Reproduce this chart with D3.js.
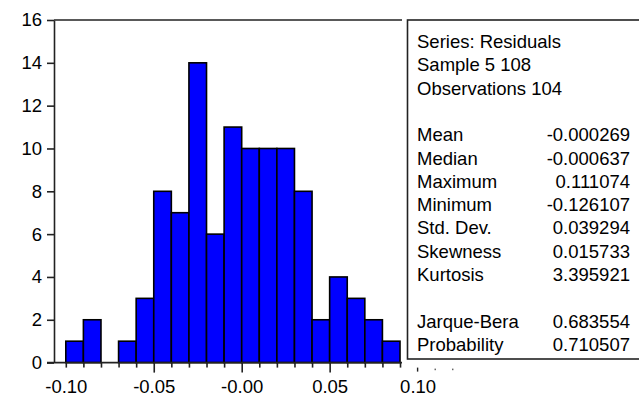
<!DOCTYPE html>
<html>
<head>
<meta charset="utf-8">
<script src="https://cdn.jsdelivr.net/npm/d3@7"></script>
<style>
  body { margin: 0; background: #fff; }
  svg { display: block; font-family: Arial, "Liberation Sans", sans-serif; }
</style>
</head>
<body>
<svg id="hist" width="639" height="396"></svg>
<script>
// bin lower edges and counts
const binStarts = [-0.10, -0.09, -0.08, -0.07, -0.06, -0.05, -0.04, -0.03, -0.02, -0.01,
                   0.00, 0.01, 0.02, 0.03, 0.04, 0.05, 0.06, 0.07, 0.08]
const counts = [1, 2, 0, 1, 3, 8, 7, 14, 6, 11, 10, 10, 10, 8, 2, 4, 3, 2, 1]
const binWidth = 0.01

const yTicks = [0, 2, 4, 6, 8, 10, 12, 14, 16]
const xMajor = [-0.05, 0.00, 0.05]
const xLabelValues = [-0.10, -0.05, 0.00, 0.05, 0.10]
const xLabels = ['-0.10', '-0.05', '-0.00', '0.05', '0.10']
const xMinor = [-0.10, -0.09, -0.08, -0.07, -0.06, -0.04, -0.03, -0.02, -0.01,
                0.01, 0.02, 0.03, 0.04, 0.06, 0.07, 0.08, 0.09]
const xOutside = [0.11, 0.12]

const statLabels = ['Series: Residuals', 'Sample 5 108', 'Observations 104', '',
  'Mean', 'Median', 'Maximum', 'Minimum', 'Std. Dev.', 'Skewness', 'Kurtosis', '',
  'Jarque-Bera', 'Probability']
const statValues = ['', '', '', '',
  '-0.000269', '-0.000637', '0.111074', '-0.126107', '0.039294', '0.015733', '3.395921', '',
  '0.683554', '0.710507']

const svg = d3.select('#hist')
const fontSize = '18.5px'
const axisColor = '#222'

const plot = {left: 54, right: 402, top: 20, bottom: 362.6}

const x = d3.scaleLinear().domain([-0.10, 0.10]).range([65.8, 417.6])
const y = d3.scaleLinear().domain([0, 16]).range([plot.bottom, plot.top])

// bars
svg.append('g')
  .selectAll('rect')
  .data(counts)
  .join('rect')
    .attr('x', (d, i) => x(binStarts[i]))
    .attr('y', d => y(d))
    .attr('width', (d, i) => x(binStarts[i] + binWidth) - x(binStarts[i]))
    .attr('height', d => y(0) - y(d))
    .attr('fill', d => d > 0 ? '#0000ff' : 'none')
    .attr('stroke', d => d > 0 ? '#000' : 'none')
    .attr('stroke-width', 1.6)

// frame top line and x axis line
svg.append('line')
  .attr('x1', plot.left).attr('x2', plot.right)
  .attr('y1', plot.top).attr('y2', plot.top)
  .attr('stroke', axisColor).attr('stroke-width', 1.6)
svg.append('line')
  .attr('x1', 47).attr('x2', plot.right)
  .attr('y1', plot.bottom).attr('y2', plot.bottom)
  .attr('stroke', axisColor).attr('stroke-width', 1.6)

// y axis
const yAxis = svg.append('g')
  .attr('transform', 'translate(' + plot.left + ',0)')
  .call(d3.axisLeft(y).tickValues(yTicks).tickSize(7).tickSizeOuter(0).tickPadding(5))
yAxis.select('.domain').attr('stroke', axisColor).attr('stroke-width', 1.6)
yAxis.selectAll('.tick line').attr('stroke', axisColor).attr('stroke-width', 1.6)
yAxis.selectAll('text').attr('fill', '#000').style('font-size', fontSize)
  .style('font-family', 'Arial, "Liberation Sans", sans-serif')

// x axis minor ticks
const xMin = svg.append('g')
  .attr('transform', 'translate(0,' + plot.bottom + ')')
  .call(d3.axisBottom(x).tickValues(xMinor).tickSize(5).tickFormat(''))
xMin.select('.domain').remove()
xMin.selectAll('.tick line').attr('stroke', axisColor).attr('stroke-width', 1.6)

// x axis major ticks
const xMaj = svg.append('g')
  .attr('transform', 'translate(0,' + plot.bottom + ')')
  .call(d3.axisBottom(x).tickValues(xMajor).tickSize(10).tickFormat(''))
xMaj.select('.domain').remove()
xMaj.selectAll('.tick line').attr('stroke', axisColor).attr('stroke-width', 1.6)

// ticks drawn past the frame (partly under the stats box)
svg.append('line')
  .attr('x1', x(0.10)).attr('x2', x(0.10))
  .attr('y1', plot.bottom + 5).attr('y2', plot.bottom + 9)
  .attr('stroke', axisColor).attr('stroke-width', 1.4)
svg.append('g')
  .selectAll('rect')
  .data(xOutside)
  .join('rect')
    .attr('x', d => x(d) - 0.6).attr('y', plot.bottom + 6)
    .attr('width', 1.2).attr('height', 1.6)
    .attr('fill', '#444')

// x axis labels
const xLab = svg.append('g')
  .attr('transform', 'translate(0,' + plot.bottom + ')')
  .call(d3.axisBottom(x).tickValues(xLabelValues).tickSize(0).tickPadding(17.4)
    .tickFormat((d, i) => xLabels[i]))
xLab.select('.domain').remove()
xLab.selectAll('text').attr('fill', '#000').style('font-size', fontSize)
  .style('font-family', 'Arial, "Liberation Sans", sans-serif')

// stats box
const box = svg.append('g')
box.append('rect')
  .attr('x', 407.5).attr('y', 20)
  .attr('width', 240).attr('height', 339)
  .attr('fill', '#fff')
  .attr('stroke', axisColor).attr('stroke-width', 1.6)

const rowY = i => 48 + i * 23.3

box.selectAll('text.lab')
  .data(statLabels)
  .join('text')
    .attr('class', 'lab')
    .attr('x', 417)
    .attr('y', (d, i) => rowY(i))
    .style('font-size', fontSize)
    .attr('fill', '#000')
    .text(d => d)

box.selectAll('text.val')
  .data(statValues)
  .join('text')
    .attr('class', 'val')
    .attr('x', 630)
    .attr('y', (d, i) => rowY(i))
    .attr('text-anchor', 'end')
    .style('font-size', fontSize)
    .attr('fill', '#000')
    .text(d => d)
</script>
</body>
</html>
